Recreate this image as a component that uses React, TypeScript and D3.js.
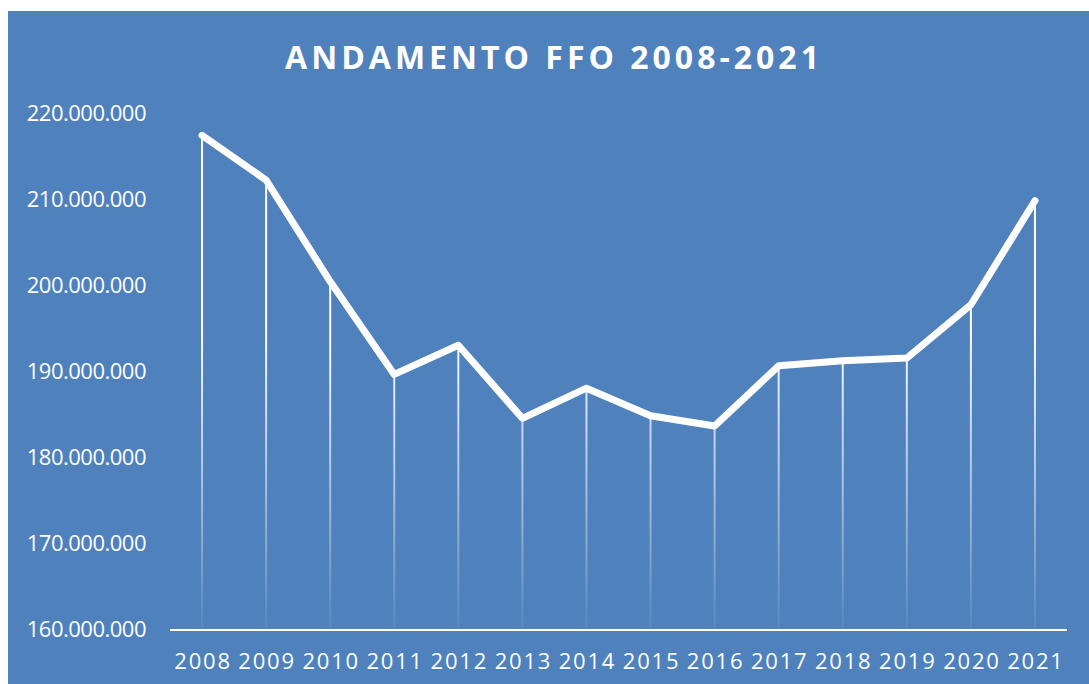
import * as d3 from 'd3';
import { useEffect, useRef } from 'react';

const years = ['2008', '2009', '2010', '2011', '2012', '2013', '2014', '2015', '2016', '2017', '2018', '2019', '2020', '2021'];
const ffo = [217.4, 212.2, 200.4, 189.6, 193.0, 184.5, 188.0, 184.8, 183.6, 190.6, 191.2, 191.5, 197.7, 209.8].map(v => v * 1e6);
const yTicks = [160e6, 170e6, 180e6, 190e6, 200e6, 210e6, 220e6];

const fmt = (v: number) => d3.format(',')(v).replace(/,/g, '.');

export default function App() {
  const svgRef = useRef<SVGSVGElement>(null);

  useEffect(() => {
    const w = 1089;
    const h = 684;
    const svg = d3.select(svgRef.current);
    svg.selectAll('*').remove();

    // background panel
    svg.append('rect')
      .attr('x', 8).attr('y', 11)
      .attr('width', w - 8).attr('height', h - 11)
      .attr('fill', '#4F81BD');

    const x = d3.scaleBand().domain(years).range([170, 1067]);
    const y = d3.scaleLinear().domain([160e6, 220e6]).range([629, 113]);

    // fading gradient for drop lines
    const defs = svg.append('defs');
    const grad = defs.append('linearGradient')
      .attr('id', 'dropFade')
      .attr('gradientUnits', 'userSpaceOnUse')
      .attr('x1', 0).attr('x2', 0)
      .attr('y1', 330).attr('y2', 629);
    grad.append('stop').attr('offset', '0%').attr('stop-color', '#fff').attr('stop-opacity', 1);
    grad.append('stop').attr('offset', '100%').attr('stop-color', '#fff').attr('stop-opacity', 0.05);

    const cx = (d: string) => (x(d) as number) + x.bandwidth() / 2;

    svg.append('g')
      .selectAll('line')
      .data(years)
      .enter().append('line')
      .attr('x1', d => cx(d)).attr('x2', d => cx(d))
      .attr('y1', (d, i) => y(ffo[i]))
      .attr('y2', y(160e6))
      .attr('stroke', 'url(#dropFade)')
      .attr('stroke-width', 2);

    // x axis line
    svg.append('line')
      .attr('x1', 170).attr('x2', 1067)
      .attr('y1', y(160e6) + 1).attr('y2', y(160e6) + 1)
      .attr('stroke', '#fff').attr('stroke-width', 2);

    // main line
    const line = d3.line<number>()
      .x((d, i) => cx(years[i]))
      .y(d => y(d));
    svg.append('path')
      .datum(ffo)
      .attr('d', line)
      .attr('fill', 'none')
      .attr('stroke', '#fff')
      .attr('stroke-width', 7)
      .attr('stroke-linecap', 'round')
      .attr('stroke-linejoin', 'round');

    // y tick labels
    svg.append('g')
      .selectAll('text')
      .data(yTicks)
      .enter().append('text')
      .attr('x', 146)
      .attr('y', d => y(d))
      .attr('dy', '0.35em')
      .attr('text-anchor', 'end')
      .attr('fill', '#fff')
      .style('font', "22px 'Open Sans'")
      .style('letter-spacing', '-0.5px')
      .text(d => fmt(d));

    // x tick labels
    svg.append('g')
      .selectAll('text')
      .data(years)
      .enter().append('text')
      .attr('x', d => cx(d) + 1)
      .attr('y', 661)
      .attr('dy', '0.35em')
      .attr('text-anchor', 'middle')
      .attr('fill', '#fff')
      .style('font', "22px 'Open Sans'")
      .style('letter-spacing', '1.8px')
      .text(d => d);

    svg.append('text')
      .attr('x', 554)
      .attr('y', 58)
      .attr('dy', '0.35em')
      .attr('text-anchor', 'middle')
      .attr('fill', '#fff')
      .style('font', "bold 32px 'Open Sans'")
      .style('letter-spacing', '4px')
      .text('ANDAMENTO FFO 2008-2021');
  });

  return (
    <svg ref={svgRef} width={1089} height={684}
      style={{ position: 'absolute', left: 0, top: 0, display: 'block' }} />
  );
}
